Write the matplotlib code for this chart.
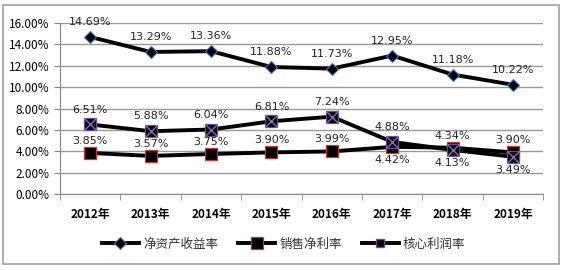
import matplotlib.pyplot as plt
from matplotlib.patches import Rectangle
from matplotlib.ticker import FuncFormatter, FixedLocator

plt.rcParams['font.family'] = ['Noto Sans CJK SC', 'DejaVu Sans']

years = ["2012年", "2013年", "2014年", "2015年", "2016年", "2017年", "2018年", "2019年"]
roe = [14.69, 13.29, 13.36, 11.88, 11.73, 12.95, 11.18, 10.22]
net_margin = [3.85, 3.57, 3.75, 3.90, 3.99, 4.42, 4.34, 3.90]
core_margin = [6.51, 5.88, 6.04, 6.81, 7.24, 4.88, 4.13, 3.49]

# label placement: +1 above, -1 below
net_pos = [1, 1, 1, 1, 1, -1, 1, 1]
core_pos = [1, 1, 1, 1, 1, 1, -1, -1]

fig = plt.figure(figsize=(5.67, 2.70), dpi=100)
fig.patches.append(Rectangle((0.006, 0.022), 0.980, 0.96, transform=fig.transFigure,
                             fill=False, edgecolor="#a0a0a0", linewidth=1.2))
ax = fig.add_axes([0.106, 0.281, 0.852, 0.634])

x = list(range(len(years)))

ax.plot(x, roe, color="black", linewidth=2.8, marker="D", markersize=6,
        markerfacecolor="black", markeredgecolor="#3a78c8", markeredgewidth=0.8,
        label="净资产收益率", zorder=3)
ax.plot(x, net_margin, color="black", linewidth=2.8, marker="s", markersize=8,
        markerfacecolor="black", markeredgecolor="#d03030", markeredgewidth=0.9,
        label="销售净利率", zorder=3)
ax.plot(x, core_margin, color="black", linewidth=2.8, marker="s", markersize=8.5,
        markerfacecolor="black", markeredgecolor="#6a4a9a", markeredgewidth=0.9,
        zorder=4)
ax.plot(x, core_margin, linestyle="none", marker="x", markersize=8,
        markeredgecolor="#8a6abe", markeredgewidth=1.0, zorder=5)
core_handle, = ax.plot([], [], color="black", linewidth=2.8, marker="s", markersize=6,
                       markerfacecolor="black", markeredgecolor="#6a4a9a")

fs = 8
label_color = "#222222"
for i, v in enumerate(roe):
    ax.annotate(f"{v:.2f}%", (i, v), xytext=(0, 7), textcoords="offset points",
                ha="center", va="bottom", fontsize=fs, family="DejaVu Sans",
                color=label_color)
for i, v in enumerate(net_margin):
    off = 5 if net_pos[i] > 0 else -6
    ax.annotate(f"{v:.2f}%", (i, v), xytext=(0, off), textcoords="offset points",
                ha="center", va="bottom" if off > 0 else "top", fontsize=fs,
                family="DejaVu Sans", color=label_color)
for i, v in enumerate(core_margin):
    off = 7 if core_pos[i] > 0 else -6
    ax.annotate(f"{v:.2f}%", (i, v), xytext=(0, off), textcoords="offset points",
                ha="center", va="bottom" if off > 0 else "top", fontsize=fs,
                family="DejaVu Sans", color=label_color)

ax.set_xlim(-0.5, len(years) - 0.5)
ax.set_ylim(0, 16)
ax.set_yticks(range(0, 17, 2))
ax.yaxis.set_major_formatter(FuncFormatter(lambda v, p: f"{v:.2f}%"))
ax.tick_params(axis="y", labelsize=8.5, length=4, color="#888888")
ax.grid(axis="y", color="#999999", linewidth=1.0)
ax.set_axisbelow(True)

ax.set_xticks(x)
ax.set_xticklabels(years, fontsize=8.5, fontweight="bold")
ax.tick_params(axis="x", length=0, pad=10)
ax.xaxis.set_minor_locator(FixedLocator([i - 0.5 for i in range(len(years) + 1)]))
ax.tick_params(axis="x", which="minor", length=4, color="#888888")

for side in ["top", "right"]:
    ax.spines[side].set_visible(False)
ax.spines["left"].set_color("#888888")
ax.spines["bottom"].set_color("#888888")

handles, labels = ax.get_legend_handles_labels()
handles.append(core_handle)
labels.append("核心利润率")
leg = fig.legend(handles, labels, loc="center", bbox_to_anchor=(0.50, 0.095), ncol=3,
                 frameon=False, fontsize=9, handlelength=3.0, columnspacing=1.6,
                 handletextpad=0.3)
for t in leg.get_texts():
    t.set_color("#333333")

fig.savefig("out.png", dpi=100)
